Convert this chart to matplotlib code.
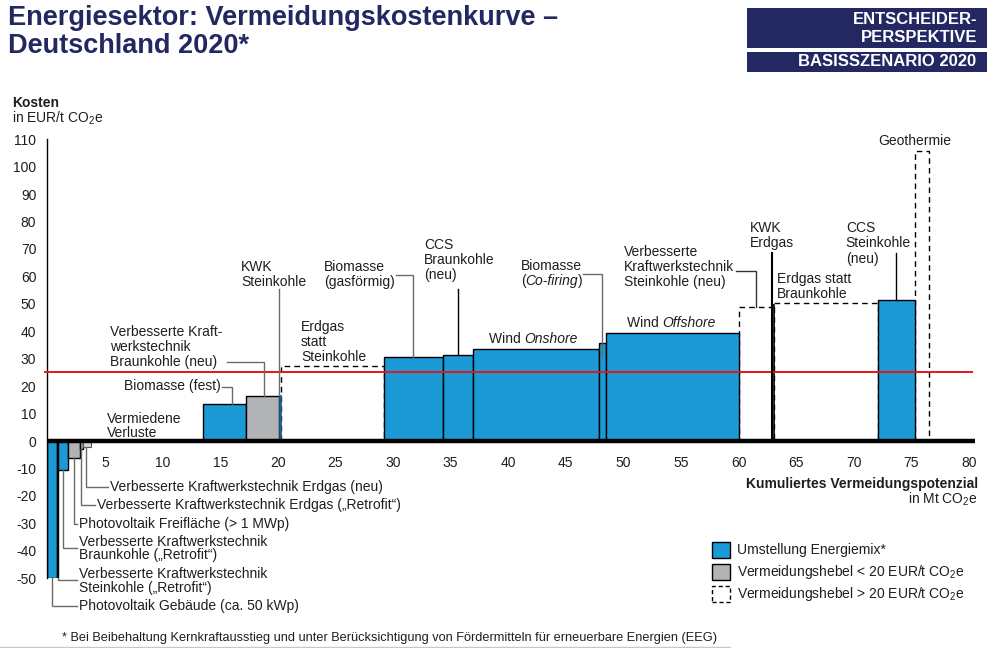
import numpy as np
import matplotlib
matplotlib.use('Agg')
import matplotlib.pyplot as plt
from matplotlib.patches import Rectangle
from matplotlib.lines import Line2D

plt.rcParams['font.family'] = ['Liberation Sans', 'DejaVu Sans']
plt.rcParams['mathtext.fontset'] = 'custom'
plt.rcParams['mathtext.rm'] = 'Liberation Sans'
plt.rcParams['mathtext.it'] = 'Liberation Sans:italic'
plt.rcParams['mathtext.bf'] = 'Liberation Sans:bold'

# ---------------- data ----------------
levers = ["Photovoltaik Gebäude", "VKT Steinkohle Retrofit", "VKT Braunkohle Retrofit",
          "Photovoltaik Freifläche", "VKT Erdgas Retrofit", "VKT Erdgas neu",
          "Vermiedene Verluste", "Biomasse (fest)", "VKT Braunkohle (neu)", "KWK Steinkohle",
          "Erdgas statt Steinkohle", "Biomasse (gasförmig)", "CCS Braunkohle (neu)",
          "Wind Onshore", "Biomasse (Co-firing)", "Wind Offshore", "VKT Steinkohle (neu)",
          "KWK Erdgas", "Erdgas statt Braunkohle", "CCS Steinkohle (neu)", "Geothermie"]
widths = [0.85, 0.08, 0.86, 1.04, 0.26, 0.69, 9.72, 3.7, 2.9, 0.2, 8.9, 5.1, 2.6,
          11.0, 0.6, 11.5, 2.9, 0.15, 9.05, 3.2, 1.2]
costs = [-50, -50, -10.5, -6, -3, -2, 0, 13.5, 16.4, 16.8, 27.3, 30.6, 31.3,
         33.5, 35.7, 39.3, 48.8, 49.6, 50.2, 51.4, 105.6]
kinds = ["blue", "blue", "blue", "gray", "gray", "lgray", "none", "blue", "gray", "dblue",
         "dashed", "blue", "blue", "blue", "blue", "blue", "dashed", "line", "dashed",
         "blue", "dashed"]
x_ticks = [5, 10, 15, 20, 25, 30, 35, 40, 45, 50, 55, 60, 65, 70, 75, 80]
y_ticks = [-50, -40, -30, -20, -10, 0, 10, 20, 30, 40, 50, 60, 70, 80, 90, 100, 110]
threshold = 25

BLUE = '#1B9AD6'
GRAY = '#B1B3B6'
NAVY = '#232762'
TXT = '#1e1e1e'
LEAD = '#6a6a6a'
FS = 10

W, H = 993, 648
fig = plt.figure(figsize=(W / 100, H / 100), dpi=100)


def pf(px, py):
    return px / W, 1 - py / H


ax = fig.add_axes([47.4 / W, 1 - 578.3 / H, (974.8 - 47.4) / W, (578.3 - 139.1) / H])
ax.set_xlim(0, 80.5)
ax.set_ylim(-50, 110)
for s in ['top', 'right', 'bottom']:
    ax.spines[s].set_visible(False)
ax.spines['left'].set_linewidth(1.0)
ax.set_xticks([])
ax.set_yticks(y_ticks)
ax.set_yticklabels([str(v) for v in y_ticks])
ax.tick_params(axis='y', length=0, pad=8, labelsize=FS, labelcolor=TXT)

starts = np.concatenate([[0], np.cumsum(widths)[:-1]])
styles = {
    'blue': dict(facecolor=BLUE, edgecolor='black', linewidth=1.0, zorder=2),
    'gray': dict(facecolor=GRAY, edgecolor='black', linewidth=1.0, zorder=2),
    'lgray': dict(facecolor='#D4D6D8', edgecolor='#555555', linewidth=0.8, zorder=2),
    'dblue': dict(facecolor='#1D5F8E', edgecolor='#1D5F8E', linewidth=0.5, zorder=2),
    'dashed': dict(facecolor='none', edgecolor='black', linewidth=1.0,
                   linestyle=(0, (4, 3)), zorder=1),
    'line': dict(facecolor='white', edgecolor='black', linewidth=1.2, zorder=2),
}
for x0, w, c, k in zip(starts, widths, costs, kinds):
    if k == 'none':
        continue
    ax.bar(x0, c, width=w, align='edge', **styles[k])

# threshold line and zero line
ax.plot([-0.25, 80.3], [threshold, threshold], color='#E8141B', lw=1.4, zorder=3, clip_on=False)
ax.plot([0, 80.5], [0, 0], color='black', lw=3.2, zorder=4, solid_capstyle='butt')

for t in x_ticks:
    ax.text(t, -8, str(t), ha='center', va='center', fontsize=FS, color=TXT)


def lead(xs, ys, color=LEAD, lw=1.0):
    ax.plot(xs, ys, color=color, lw=lw, zorder=5, clip_on=False,
            solid_joinstyle='miter')


def label(x, ys, lines, **kw):
    for y, s in zip(ys, lines):
        ax.text(x, y, s, ha='left', va='center', fontsize=FS, color=TXT, **kw)


# ---- negative side labels ----
lead([0.4, 0.4, 2.57], [-50, -60.1, -60.1])
label(2.75, [-60.1], ["Photovoltaik Gebäude (ca. 50 kWp)"])
lead([0.88, 0.88, 2.57], [-50, -50.6, -50.6])
label(2.75, [-48.4, -53.6], ["Verbesserte Kraftwerkstechnik", "Steinkohle („Retrofit“)"])
lead([1.35, 1.35, 2.57], [-10.5, -39.0, -39.0])
label(2.75, [-36.6, -41.6], ["Verbesserte Kraftwerkstechnik", "Braunkohle („Retrofit“)"])
lead([2.3, 2.3, 2.57], [-6, -30.2, -30.2])
label(2.75, [-30.2], ["Photovoltaik Freifläche (> 1 MWp)"])
lead([2.92, 2.92, 4.13], [-3, -23.3, -23.3])
label(4.3, [-23.3], ["Verbesserte Kraftwerkstechnik Erdgas („Retrofit“)"])
lead([3.35, 3.35, 5.26], [-2, -16.6, -16.6])
label(5.43, [-16.6], ["Verbesserte Kraftwerkstechnik Erdgas (neu)"])

# ---- positive side labels ----
label(5.17, [8.0, 2.9], ["Vermiedene", "Verluste"])
ax.text(15.07, 19.9, "Biomasse (fest)", ha='right', va='center', fontsize=FS, color=TXT)
lead([15.15, 16.0, 16.0], [19.7, 19.7, 13.5])
label(5.43, [39.8, 34.2, 28.9], ["Verbesserte Kraft-", "werkstechnik", "Braunkohle (neu)"])
lead([15.56, 18.83, 18.83], [28.7, 28.7, 16.4])
label(16.8, [63.5, 58.0], ["KWK", "Steinkohle"])
lead([20.12, 20.12], [55.4, 16.8])
label(22.0, [41.4, 36.0, 30.7], ["Erdgas", "statt", "Steinkohle"])
label(24.04, [63.5, 58.0], ["Biomasse", "(gasförmig)"])
lead([30.3, 31.7, 31.7], [60.5, 60.5, 30.6])
label(32.7, [71.4, 65.9, 60.5], ["CCS", "Braunkohle", "(neu)"])
lead([35.6, 35.6], [55.3, 31.3], color='black')
label(41.1, [63.75], ["Biomasse"])
t1 = ax.text(41.1, 58.3, "(", ha='left', va='center', fontsize=FS, color=TXT)
t2 = ax.annotate("Co-firing", xy=(1, 0), xycoords=t1, ha='left', va='bottom',
                 fontsize=FS, color=TXT, style='italic')
ax.annotate(")", xy=(1, 0), xycoords=t2, ha='left', va='bottom', fontsize=FS, color=TXT)
lead([46.5, 48.17, 48.17], [60.7, 60.7, 30.7])
t3 = ax.text(38.3, 37.2, "Wind ", ha='left', va='center', fontsize=FS, color=TXT)
ax.annotate("Onshore", xy=(1, 0), xycoords=t3, ha='left', va='bottom',
            fontsize=FS, color=TXT, style='italic')
label(50.05, [69.0, 63.5, 58.0], ["Verbesserte", "Kraftwerkstechnik", "Steinkohle (neu)"])
lead([59.8, 61.5, 61.5], [62.0, 62.0, 48.8], color='#333333')
t4 = ax.text(50.3, 43.1, "Wind ", ha='left', va='center', fontsize=FS, color=TXT)
ax.annotate("Offshore", xy=(1, 0), xycoords=t4, ha='left', va='bottom',
            fontsize=FS, color=TXT, style='italic')
label(61.0, [77.5, 72.0], ["KWK", "Erdgas"])
lead([62.93, 62.93], [68.6, 0], color='black', lw=1.5)
label(63.3, [58.9, 53.6], ["Erdgas statt", "Braunkohle"])
label(69.3, [77.5, 72.0, 66.5], ["CCS", "Steinkohle", "(neu)"])
lead([73.66, 73.66], [68.6, 51.4], color='black')
label(72.1, [109.4], ["Geothermie"])

# ---- axis titles ----
fig.text(*pf(12, 103), "Kosten", ha='left', va='center', fontsize=FS, weight='bold', color=TXT)
fig.text(*pf(12, 118), "in EUR/t CO$_2$e", ha='left', va='center', fontsize=FS, color=TXT)
fig.text(*pf(978, 484), "Kumuliertes Vermeidungspotenzial", ha='right', va='center',
         fontsize=FS, weight='bold', color=TXT)
fig.text(*pf(978, 499), "in Mt CO$_2$e", ha='right', va='center', fontsize=FS, color=TXT)

# ---- legend ----
leg_items = [("Umstellung Energiemix*", dict(facecolor=BLUE, edgecolor='black', lw=1.0)),
             ("Vermeidungshebel < 20 EUR/t CO$_2$e", dict(facecolor=GRAY, edgecolor='black', lw=1.0)),
             ("Vermeidungshebel > 20 EUR/t CO$_2$e", dict(facecolor='white', edgecolor='black', lw=1.0,
                                                          linestyle=(0, (3, 2))))]
for i, (txt, st) in enumerate(leg_items):
    cy = 550 + i * 22
    x0, y0 = pf(712, cy + 8)
    fig.patches.append(Rectangle((x0, y0), 18 / W, 16 / H, transform=fig.transFigure, **st))
    fig.text(*pf(737, cy), txt, ha='left', va='center', fontsize=FS, color=TXT)

# ---- title & header ----
fig.text(*pf(8, 18), "Energiesektor: Vermeidungskostenkurve –", ha='left', va='center',
         fontsize=19.5, weight='bold', color=NAVY)
fig.text(*pf(8, 46), "Deutschland 2020*", ha='left', va='center',
         fontsize=19.5, weight='bold', color=NAVY)
bx, by = pf(747, 47.7)
fig.patches.append(Rectangle((bx, by), 240 / W, 39.4 / H, transform=fig.transFigure,
                             facecolor=NAVY, edgecolor='none'))
bx, by = pf(747, 71.7)
fig.patches.append(Rectangle((bx, by), 240 / W, 20 / H, transform=fig.transFigure,
                             facecolor=NAVY, edgecolor='none'))
fig.text(*pf(977, 19), "ENTSCHEIDER-", ha='right', va='center', fontsize=12,
         weight='bold', color='white')
fig.text(*pf(977, 37), "PERSPEKTIVE", ha='right', va='center', fontsize=12,
         weight='bold', color='white')
fig.text(*pf(976, 62), "BASISSZENARIO 2020", ha='right', va='center', fontsize=12,
         weight='bold', color='white')

# ---- footnote ----
fig.text(*pf(62, 638), "* Bei Beibehaltung Kernkraftausstieg und unter Berücksichtigung von "
         "Fördermitteln für erneuerbare Energien (EEG)", ha='left', va='center',
         fontsize=9.2, color=TXT, family=['Liberation Sans Narrow', 'Liberation Sans'])
fig.lines.append(Line2D([0, 730 / W], [1 - 646.5 / H] * 2, transform=fig.transFigure,
                        color='#c8c8c8', lw=1.0))

fig.savefig('out.png', dpi=100)
